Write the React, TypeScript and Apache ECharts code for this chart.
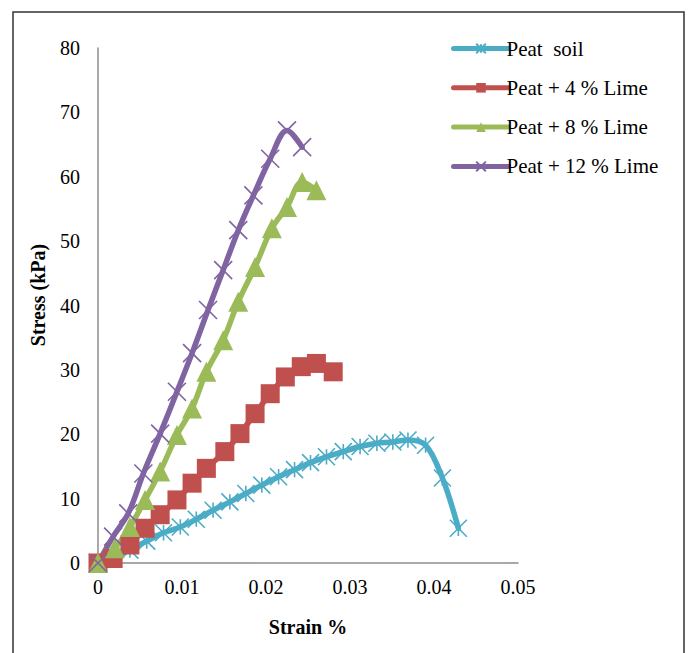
import React, { useEffect, useRef } from "react";
import * as echarts from "echarts";

const seriesNames = ["Peat  soil", "Peat + 4 % Lime", "Peat + 8 % Lime", "Peat + 12 % Lime"];
const colors = ["#4BACC6", "#C0504D", "#9BBB59", "#8064A2"];

const peatX = [0, 0.0018, 0.0038, 0.0058, 0.0078, 0.0098, 0.0117, 0.0137, 0.0157, 0.0176, 0.0195, 0.0215, 0.0234, 0.0253, 0.0272, 0.0292, 0.0312, 0.0332, 0.0351, 0.0369, 0.039, 0.041, 0.0429];
const peatY = [0, 0.9, 2.0, 3.4, 4.7, 5.6, 6.8, 8.2, 9.5, 10.8, 12.1, 13.4, 14.5, 15.6, 16.5, 17.3, 18.1, 18.6, 18.8, 19.1, 18.3, 13.2, 5.4];

const lime4X = [0, 0.0018, 0.0038, 0.0056, 0.0074, 0.0094, 0.0112, 0.0129, 0.0151, 0.0169, 0.0187, 0.0205, 0.0223, 0.0242, 0.026, 0.028];
const lime4Y = [0, 0.7, 2.8, 5.4, 7.5, 9.8, 12.4, 14.7, 17.3, 20.1, 23.2, 26.3, 28.9, 30.5, 31.0, 29.7];

const lime8X = [0, 0.002, 0.0038, 0.0056, 0.0074, 0.0094, 0.0112, 0.0129, 0.0149, 0.0167, 0.0187, 0.0207, 0.0225, 0.0243, 0.026];
const lime8Y = [0, 2.3, 5.6, 9.8, 14.2, 19.9, 24.0, 29.7, 34.6, 40.6, 46.0, 52.0, 55.3, 59.2, 57.9];

const lime12X = [0, 0.0018, 0.0036, 0.0054, 0.0074, 0.0094, 0.0112, 0.0131, 0.0149, 0.0167, 0.0185, 0.0205, 0.0225, 0.0243];
const lime12Y = [0, 4.1, 7.7, 13.9, 20.1, 26.6, 32.6, 39.3, 45.5, 51.7, 57.1, 62.8, 67.2, 64.6];

const xTicks = [0, 0.01, 0.02, 0.03, 0.04, 0.05];
const yTicks = [0, 10, 20, 30, 40, 50, 60, 70, 80];

const FONT = "'Liberation Serif', 'Times New Roman', serif";

const crossPath = "path://M0,0L10,10M10,0L0,10";
const starPath = "path://M0,0L10,10M10,0L0,10M5,0.5L5,9.5";

function zip(xs: number[], ys: number[]) {
  return xs.map((x, i) => [x, ys[i]]);
}

export default function App() {
  const ref = useRef<HTMLDivElement>(null);
  useEffect(() => {
    if (!ref.current) return;
    const chart = echarts.init(ref.current, undefined, { renderer: "svg" });
    const datasets = [zip(peatX, peatY), zip(lime4X, lime4Y), zip(lime8X, lime8Y), zip(lime12X, lime12Y)];
    const symbols = [starPath, "rect", "triangle", crossPath];
    const sizes = [17, 19, 20, 18];
    const stroked = [true, false, false, true];
    chart.setOption({
      animation: false,
      backgroundColor: "#ffffff",
      textStyle: { fontFamily: FONT },
      grid: { left: 98, top: 48, width: 420, height: 515, containLabel: false },
      legend: {
        orient: "vertical",
        left: 446,
        top: 33,
        itemWidth: 55,
        itemHeight: 12,
        itemGap: 18.3,
        data: seriesNames,
        lineStyle: { width: 5, cap: "round" },
        textStyle: { fontFamily: FONT, fontSize: 21, color: "#000", lineHeight: 20, padding: [0, 0, 0, -7] },
      },
      xAxis: {
        type: "value",
        min: 0,
        max: 0.05,
        interval: 0.01,
        axisLine: { show: true, onZero: false, lineStyle: { color: "#8C8C8C", width: 1.5 } },
        axisTick: { show: false },
        splitLine: { show: false },
        axisLabel: {
          color: "#000",
          fontFamily: FONT,
          fontSize: 20,
          margin: 14,
          formatter: (v: number) => {
            const t = xTicks.find((k) => Math.abs(k - v) < 1e-9);
            return t === 0 ? "0" : (t ?? v).toFixed(2);
          },
        },
      },
      yAxis: {
        type: "value",
        min: 0,
        max: 80,
        interval: 10,
        axisLine: { show: true, lineStyle: { color: "#8C8C8C", width: 1.5 } },
        axisTick: { show: false },
        splitLine: { show: false },
        axisLabel: {
          color: "#000",
          fontFamily: FONT,
          fontSize: 20,
          margin: 18,
          formatter: (v: number) => String(yTicks.find((k) => k === v) ?? v),
        },
      },
      graphic: [
        {
          type: "rect",
          shape: { x: 13, y: 12, width: 671, height: 700 },
          style: { fill: "none", stroke: "#333333", lineWidth: 1.5 },
          silent: true,
        },
        {
          type: "text",
          x: 38,
          y: 295,
          rotation: Math.PI / 2,
          style: {
            text: "Stress (kPa)",
            fontFamily: FONT,
            fontWeight: "bold",
            fontSize: 20,
            fill: "#000",
            align: "center",
            verticalAlign: "middle",
          },
        },
        {
          type: "text",
          x: 308,
          y: 627,
          style: {
            text: "Strain %",
            fontFamily: FONT,
            fontWeight: "bold",
            fontSize: 20,
            fill: "#000",
            align: "center",
            verticalAlign: "middle",
          },
        },
      ],
      series: datasets.map((d, i) => ({
        name: seriesNames[i],
        type: "line",
        data: d,
        smooth: 0.35,
        symbol: symbols[i],
        symbolSize: sizes[i],
        showAllSymbol: true,
        lineStyle: { color: colors[i], width: 5.5, cap: "round", join: "round" },
        itemStyle: stroked[i]
          ? { color: colors[i], borderColor: colors[i], borderWidth: 1.6 }
          : { color: colors[i], borderWidth: 0 },
        emphasis: { disabled: true },
      })),
    });
    return () => chart.dispose();
  }, []);
  return (
    <div
      ref={ref}
      style={{ position: "fixed", left: 0, top: 0, width: 688, height: 653, background: "#fff" }}
    />
  );
}
